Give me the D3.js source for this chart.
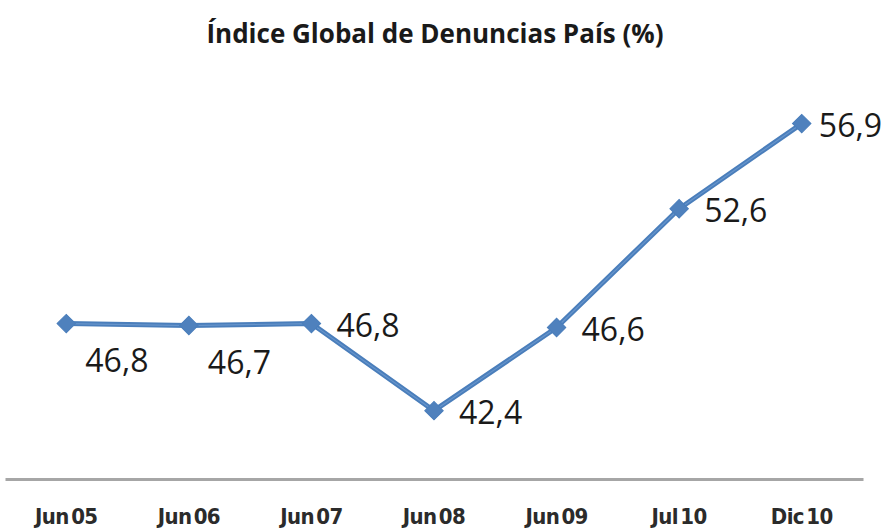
<!DOCTYPE html>
<html>
<head>
<meta charset="utf-8">
<script src="https://cdn.jsdelivr.net/npm/d3@7"></script>
<style>
  html, body { margin: 0; padding: 0; background: #fff; }
  svg { display: block; }
</style>
</head>
<body>
<svg id="chart" width="886" height="532"></svg>
<script>
// Series: national complaints index, by survey date
const categories = ["Jun 05", "Jun 06", "Jun 07", "Jun 08", "Jun 09", "Jul 10", "Dic 10"];
const values = [46.8, 46.7, 46.8, 42.4, 46.6, 52.6, 56.9];
const valueLabels = ["46,8", "46,7", "46,8", "42,4", "46,6", "52,6", "56,9"];
const labelPlacement = ["below", "below", "right", "right", "right", "right", "right"];
const titleText = "Índice Global de Denuncias País (%)";

const svg = d3.select("#chart");
const W = 886, H = 532;
const plot = { left: 5, right: 863, top: 82, bottom: 478 };

const x = d3.scaleBand()
  .domain(categories)
  .range([plot.left, plot.right])
  .padding(0);

const y = d3.scaleLinear()
  .domain([39, 59])
  .range([plot.bottom, plot.top]);

const cx = d => x(d) + x.bandwidth() / 2;

// Title
svg.append("text")
  .attr("x", 435)
  .attr("y", 43)
  .attr("text-anchor", "middle")
  .attr("font-family", "'Open Sans', Lato, sans-serif")
  .attr("font-weight", "bold")
  .attr("font-size", 26)
  .attr("fill", "#1a1a1a")
  .text(titleText);

// Category axis
const xAxis = d3.axisBottom(x).tickSize(0).tickPadding(0);
const gx = svg.append("g")
  .attr("transform", `translate(0,${plot.bottom + 1})`)
  .call(xAxis);
gx.select(".domain")
  .attr("stroke", "#a6a6a6")
  .attr("stroke-width", 3);
gx.selectAll(".tick text")
  .attr("dy", null)
  .attr("y", 45)
  .attr("font-family", "'DejaVu Sans Condensed', 'DejaVu Sans', sans-serif")
  .attr("font-stretch", "condensed")
  .attr("font-weight", "bold")
  .attr("font-size", 22)
  .attr("letter-spacing", -0.6)
  .attr("word-spacing", -4)
  .attr("fill", "#2b2b2b");

// Line
const pts = categories.map((c, i) => ({ c, v: values[i], lab: valueLabels[i], pos: labelPlacement[i] }));
const line = d3.line().x(d => cx(d.c)).y(d => y(d.v));

svg.append("path")
  .datum(pts)
  .attr("fill", "none")
  .attr("stroke", "#4a7ebb")
  .attr("stroke-width", 5)
  .attr("stroke-linejoin", "round")
  .attr("d", line);

svg.append("path")
  .datum(pts)
  .attr("fill", "none")
  .attr("stroke", "#7aa3d6")
  .attr("stroke-width", 1.2)
  .attr("stroke-opacity", 0.6)
  .attr("d", line);

// Diamond markers (rotated squares)
svg.selectAll("path.marker")
  .data(pts)
  .join("path")
  .attr("class", "marker")
  .attr("d", d3.symbol().type(d3.symbolSquare).size(170))
  .attr("transform", d => `translate(${cx(d.c)},${y(d.v)}) rotate(45)`)
  .attr("fill", "#4f81bd")
  .attr("stroke", "#4a7ebb")
  .attr("stroke-width", 1);

// Value labels; a label that would run past the right edge is pulled back inside
svg.selectAll("text.value")
  .data(pts)
  .join("text")
  .attr("class", "value")
  .attr("x", d => cx(d.c) + (d.pos === "below" ? 19 : 25))
  .attr("y", d => y(d.v) + (d.pos === "below" ? 48 : 13))
  .attr("font-family", "'Open Sans', Lato, sans-serif")
  .attr("font-size", 32)
  .attr("fill", "#1a1a1a")
  .text(d => d.lab)
  .each(function () {
    const w = this.getComputedTextLength();
    const x0 = +this.getAttribute("x");
    if (x0 + w > W - 4) this.setAttribute("x", W - 4 - w);
  });
</script>
</body>
</html>
